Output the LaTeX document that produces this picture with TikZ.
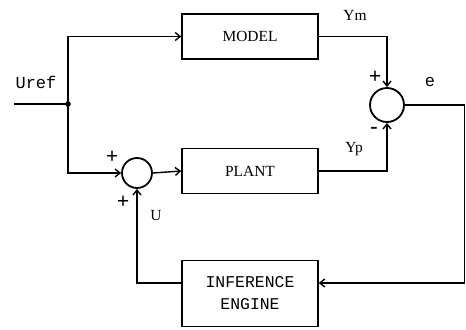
\documentclass[tikz,border=0pt]{standalone}
\usepackage{fontspec}
\setmainfont{Liberation Serif}
\newfontfamily\monof{Liberation Mono}
\usetikzlibrary{arrows.meta}
\begin{document}
\begin{tikzpicture}[x=1bp,y=-1bp,
  line width=1.4bp,
  blockbox/.style={draw,rectangle,minimum width=136bp,inner sep=0pt,font=\fontsize{15.5}{17}\selectfont},
  sumnode/.style={draw,circle,inner sep=0pt,line width=1.8bp},
  arr/.style={-{Straight Barb[length=5bp,width=8bp,line width=1.4bp]}},
  lbl/.style={inner sep=0pt,font=\fontsize{15.5}{17}\selectfont},
  mlbl/.style={inner sep=0pt,font=\monof\fontsize{17}{19}\selectfont},
  sgn/.style={inner sep=0pt,font=\bfseries\fontsize{22}{22}\selectfont}]
\useasboundingbox (0,0) rectangle (466,329);
\node[blockbox,minimum height=45bp] (model) at (250,36.5) {MODEL};
\node[blockbox,minimum height=45bp] (plant) at (250,171) {PLANT};
\node[blockbox,minimum height=66bp,align=center,font=\monof\fontsize{16.5}{22}\selectfont] (ie) at (250,293.5) {INFERENCE\\ENGINE};
\node[sumnode,minimum size=30bp] (s1) at (137,173) {};
\node[sumnode,minimum size=34bp] (s2) at (387,105) {};
\coordinate (uin) at (14,104);
\coordinate (j) at (68,104);
\coordinate (c1) at (464.5,105);
\coordinate (c2) at (464.5,283);
\fill (j) circle (2.8bp);
\draw (uin) -- (j);
\draw[arr] (j) |- (model.west);
\draw[arr] (j) |- (s1.west);
\draw[arr] (s1.east) -- (plant.west);
\draw[arr] (model.east) -| (s2.north);
\draw[arr] (plant.east) -| (s2.south);
\draw (s2.east) -- (c1);
\draw[line width=0.9bp] (c1) -- (c2);
\draw[arr] (c2) -- (ie.east |- c2);
\draw[arr] (ie.west |- c2) -| (s1.south);
\node[mlbl] (uref) at (36,82) {Uref};
\node[lbl] (ym) at (355,15) {Ym};
\node[lbl] (yp) at (354,149) {Yp};
\node[mlbl] (e) at (430,82) {e};
\node[lbl] (u) at (156,216) {U};
\node[sgn] (p1) at (112,157) {+};
\node[sgn] (p2) at (123,202) {+};
\node[sgn] (p3) at (375,77) {+};
\node[sgn] (m1) at (374,130) {-};
\end{tikzpicture}
\end{document}
